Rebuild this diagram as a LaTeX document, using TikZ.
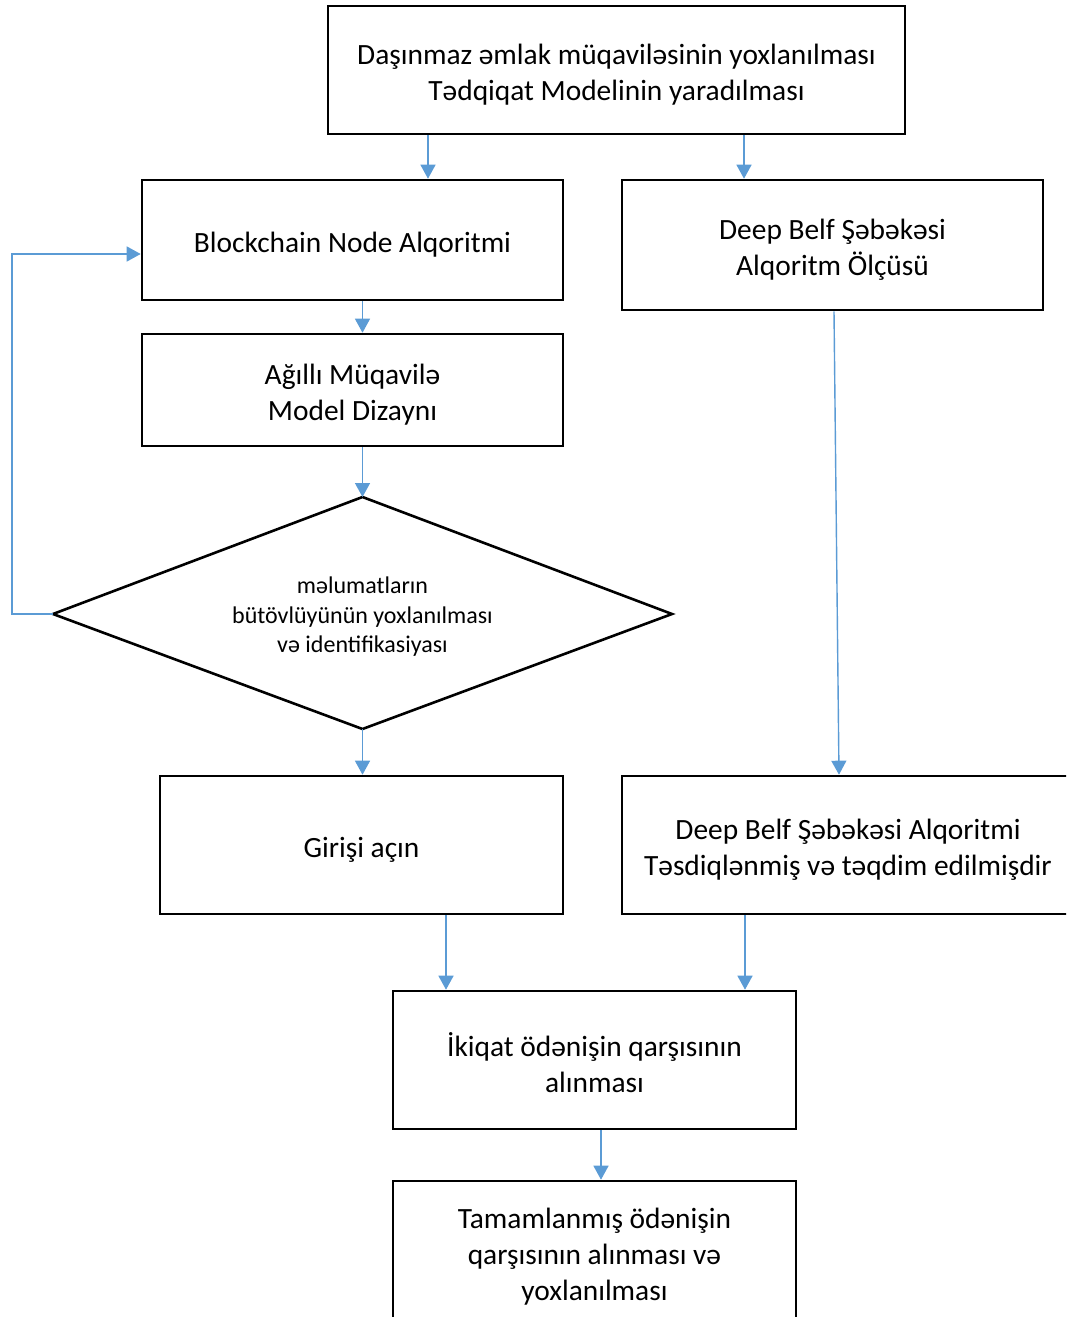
\documentclass[tikz,border=0pt]{standalone}
\usepackage{fontspec}
\setmainfont{Carlito}
\usetikzlibrary{arrows.meta}
% fixed height for the first line of each box label
\newcommand{\firstline}{\rule{0pt}{30pt}}
\begin{document}
\begin{tikzpicture}[x=1pt,y=-1pt,
  box/.style={draw=black,line width=2.6pt,rectangle,inner sep=0pt,align=center,
    font=\fontsize{29.4}{36}\selectfont},
  decisiontext/.style={inner sep=0pt,align=center,
    font=\fontsize{24}{29.5}\selectfont},
  outline/.style={draw=black,line width=2.6pt,line join=miter},
  flow/.style={draw={rgb,255:red,91;green,155;blue,213},line width=1.4pt,
    -{Triangle[length=14pt,width=15pt]}}]
\useasboundingbox (0,0) rectangle (1066,1317);
\clip (0,0) rectangle (1066,1317);

% process boxes
\node[box,minimum width=577,minimum height=128] (top) at (616.5,70)
  {\firstline Daşınmaz əmlak müqaviləsinin yoxlanılması\\Tədqiqat Modelinin yaradılması};
\node[box,minimum width=421,minimum height=120] (blk) at (352.5,240)
  {\firstline Blockchain Node Alqoritmi};
\node[box,minimum width=421,minimum height=130] (dbn) at (832.5,245)
  {\firstline Deep Belf Şəbəkəsi\\Alqoritm Ölçüsü};
\node[box,minimum width=421,minimum height=112] (agl) at (352.5,390)
  {\firstline Ağıllı Müqavilə\\Model Dizaynı};
\node[box,minimum width=403,minimum height=138] (gir) at (361.5,845)
  {\firstline Girişi açın};
\node[box,minimum width=452,minimum height=138] (dba) at (848,845)
  {\firstline Deep Belf Şəbəkəsi Alqoritmi\\Təsdiqlənmiş və təqdim edilmişdir};
\node[box,minimum width=403,minimum height=138] (iki) at (594.5,1060)
  {\firstline İkiqat ödənişin qarşısının\\alınması};
\node[box,minimum width=403,minimum height=142] (tam) at (594.5,1252)
  {\firstline Tamamlanmış ödənişin\\qarşısının alınması və\\yoxlanılması};

% decision diamond
\coordinate (dn) at (362.5,497);
\coordinate (de) at (672,614);
\coordinate (ds) at (362.5,729);
\coordinate (dw) at (53,614);
\draw[outline] (dn) -- (de) -- (ds) -- (dw) -- cycle;
\node[decisiontext] (dia) at (362.5,617)
  {məlumatların\\bütövlüyünün yoxlanılması\\və identifikasiyası};

% connector columns
\coordinate (xa) at (428,0);
\coordinate (xb) at (744,0);
\coordinate (xc) at (362.5,0);
\coordinate (xd) at (446,0);
\coordinate (xe) at (745,0);
\coordinate (xf) at (601,0);
\coordinate (xl) at (12,0);
\coordinate (rs) at (834,0);
\coordinate (re) at (839,0);

% connectors
\draw[flow] (top.south -| xa) -- (blk.north -| xa);
\draw[flow] (top.south -| xb) -- (dbn.north -| xb);
\draw[flow] (blk.south -| xc) -- (agl.north -| xc);
\draw[flow] (agl.south -| xc) -- (dn);
\draw[flow] (ds) -- (gir.north -| xc);
\draw[flow] (dbn.south -| rs) -- (dba.north -| re);
\draw[flow] (gir.south -| xd) -- (iki.north -| xd);
\draw[flow] (dba.south -| xe) -- (iki.north -| xe);
\draw[flow] (iki.south -| xf) -- (tam.north -| xf);
\draw[flow] (dw) -- (dw -| xl) -- (xl |- 0,254) -- (blk.west |- 0,254);
\end{tikzpicture}
\end{document}
